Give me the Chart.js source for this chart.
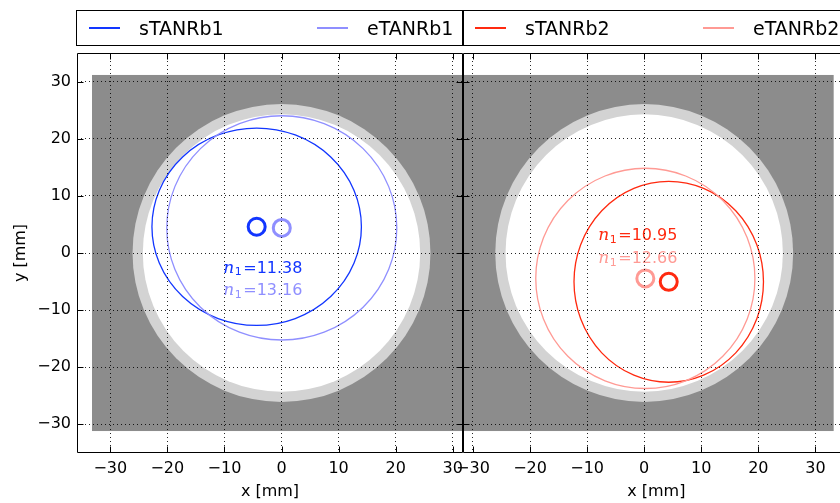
<!DOCTYPE html>
<html>
<head>
<meta charset="utf-8">
<script src="https://cdn.jsdelivr.net/npm/chart.js@4/dist/chart.umd.min.js"></script>
<style>
  html, body { margin: 0; padding: 0; background: #fff; }
  body { width: 840px; height: 503px; overflow: hidden; position: relative; font-family: "DejaVu Sans", sans-serif; }
  canvas { position: absolute; top: 0; }
  #c1 { left: 0px; }
  #c2 { left: 440px; }
  .legend { position: absolute; top: 10px; height: 34px; width: 386px; border: 1px solid #000; box-sizing: content-box; }
  .item { position: absolute; top: 0; height: 34px; line-height: 34px; font-size: 19px; color: #000; white-space: nowrap; }
  .swatch { position: absolute; top: 16px; width: 31px; height: 2px; }
</style>
</head>
<body>
<canvas id="c1" width="500" height="503" style="width:500px;height:503px"></canvas>
<canvas id="c2" width="440" height="503" style="width:440px;height:503px"></canvas>
<div class="legend" id="leg1" style="left:76px"></div>
<div class="legend" id="leg2" style="left:462px"></div>
<script>
// ---------------- data ----------------
const xTicks = [-30, -20, -10, 0, 10, 20, 30];
const yTicks = [-30, -20, -10, 0, 10, 20, 30];

// beam 1 (left panel)
const b1Labels = ['sTANRb1', 'eTANRb1'];
const b1CenterX = [-4.35, 0.05];
const b1CenterY = [4.6, 4.4];
const b1HalfWidth = [18.35, 20.15];
const b1HalfHeight = [17.3, 19.65];
const b1N1 = ['11.38', '13.16'];
const b1TextX = [-10.2, -10.2];
const b1TextY = [-2.72, -6.67];

// beam 2 (right panel)
const b2Labels = ['sTANRb2', 'eTANRb2'];
const b2CenterX = [4.3, 0.2];
const b2CenterY = [-5.05, -4.45];
const b2HalfWidth = [16.6, 19.2];
const b2HalfHeight = [17.6, 19.3];
const b2N1 = ['10.95', '12.66'];
const b2TextX = [-8.04, -8.04];
const b2TextY = [2.98, -1.0];

// aperture
const apertureRect = [33.2, 31.2];   // half width, half height
const apertureRing = [24.3, 26.1];   // inner, outer radius

// axis ranges
const b1XRange = [-35.83, 31.8];
const b2XRange = [-31.75, 36.0];
const yRange = [-35.05, 35.05];

const b1Colors = ['#1236ff', '#8f8fff'];
const b2Colors = ['#ff2a10', '#ff9a94'];

// ---------------- legend (HTML) ----------------
function buildLegend(id, labels, colors) {
  const el = document.getElementById(id);
  const offs = [[12, 62], [240, 290]];
  labels.forEach((lab, i) => {
    const sw = document.createElement('div');
    sw.className = 'swatch';
    sw.style.left = offs[i][0] + 'px';
    sw.style.background = colors[i];
    el.appendChild(sw);
    const t = document.createElement('div');
    t.className = 'item';
    t.style.left = offs[i][1] + 'px';
    t.textContent = lab;
    el.appendChild(t);
  });
}
buildLegend('leg1', b1Labels, b1Colors);
buildLegend('leg2', b2Labels, b2Colors);

// ---------------- plugin ----------------
const fmt = v => (v < 0 ? '\u2212' + Math.abs(v) : String(v));

const panelPlugin = {
  id: 'panel',
  beforeDatasetsDraw(chart, args, o) {
    const { ctx, chartArea: a, scales: { x, y } } = chart;
    ctx.save();
    ctx.beginPath();
    ctx.rect(a.left, a.top, a.right - a.left, a.bottom - a.top);
    ctx.clip();
    // gray rectangle
    const rx0 = x.getPixelForValue(-apertureRect[0]);
    const rx1 = x.getPixelForValue(apertureRect[0]);
    const ry0 = y.getPixelForValue(apertureRect[1]);
    const ry1 = y.getPixelForValue(-apertureRect[1]);
    ctx.fillStyle = '#8c8c8c';
    ctx.fillRect(rx0, ry0, rx1 - rx0, ry1 - ry0);
    // ring
    const cx = x.getPixelForValue(0), cy = y.getPixelForValue(0);
    const rOut = x.getPixelForValue(apertureRing[1]) - cx;
    const rIn = x.getPixelForValue(apertureRing[0]) - cx;
    ctx.fillStyle = '#d3d3d3';
    ctx.beginPath(); ctx.arc(cx, cy, rOut, 0, Math.PI * 2); ctx.fill();
    ctx.fillStyle = '#ffffff';
    ctx.beginPath(); ctx.arc(cx, cy, rIn, 0, Math.PI * 2); ctx.fill();
    // beam envelopes
    for (let i = 0; i < o.cx.length; i++) {
      const px = x.getPixelForValue(o.cx[i]);
      const py = y.getPixelForValue(o.cy[i]);
      const ex = Math.abs(x.getPixelForValue(o.cx[i] + o.hw[i]) - px);
      const ey = Math.abs(y.getPixelForValue(o.cy[i] + o.hh[i]) - py);
      ctx.strokeStyle = o.colors[i];
      ctx.lineWidth = 1.3;
      ctx.beginPath(); ctx.ellipse(px, py, ex, ey, 0, 0, Math.PI * 2); ctx.stroke();
    }
    // n1 labels
    ctx.textBaseline = 'middle';
    ctx.textAlign = 'left';
    for (let i = 0; i < o.n1.length; i++) {
      let tx = x.getPixelForValue(o.tx[i]);
      const ty = y.getPixelForValue(o.ty[i]);
      ctx.fillStyle = o.colors[i];
      ctx.font = 'italic 17px "DejaVu Serif"';
      ctx.fillText('n', tx, ty);
      tx += ctx.measureText('n').width + 0.5;
      ctx.font = '11px "DejaVu Sans"';
      ctx.fillText('1', tx, ty + 4);
      tx += ctx.measureText('1').width + 1.5;
      ctx.font = '16px "DejaVu Sans"';
      ctx.fillText('=' + o.n1[i], tx, ty);
    }
    ctx.restore();
  },
  afterDraw(chart) {
    const { ctx, chartArea: a, scales: { x, y } } = chart;
    ctx.save();
    ctx.strokeStyle = '#000';
    ctx.lineWidth = 1;
    const L = Math.round(a.left) + 0.5, R = Math.round(a.right) - 0.5;
    const T = Math.round(a.top) + 0.5, B = Math.round(a.bottom) - 0.5;
    ctx.beginPath();
    ctx.moveTo(L, T); ctx.lineTo(R, T); ctx.lineTo(R, B); ctx.lineTo(L, B); ctx.closePath();
    ctx.stroke();
    // inward tick marks
    const tl = 6;
    ctx.beginPath();
    xTicks.forEach(v => {
      const p = Math.round(x.getPixelForValue(v)) + 0.5;
      ctx.moveTo(p, B); ctx.lineTo(p, B - tl);
      ctx.moveTo(p, T); ctx.lineTo(p, T + tl);
    });
    yTicks.forEach(v => {
      const p = Math.round(y.getPixelForValue(v)) + 0.5;
      ctx.moveTo(L, p); ctx.lineTo(L + tl, p);
      ctx.moveTo(R, p); ctx.lineTo(R - tl, p);
    });
    ctx.stroke();
    ctx.restore();
  }
};

function makeChart(canvasId, labels, colors, cxs, cys, hws, hhs, n1, tx, ty, xRange, isLeft) {
  const datasets = labels.map((lab, i) => ({
    label: lab,
    data: [{ x: cxs[i], y: cys[i] }],
    pointRadius: 8.5,
    pointHoverRadius: 8.5,
    pointBorderWidth: 3,
    borderColor: colors[i],
    pointBorderColor: colors[i],
    backgroundColor: 'rgba(0,0,0,0)',
    pointBackgroundColor: 'rgba(0,0,0,0)'
  }));
  const gridOpts = { display: true, color: 'rgba(0,0,0,0.85)', lineWidth: 1, drawTicks: false, z: 1 };
  const borderOpts = { display: false, dash: [1, 3] };
  return new Chart(document.getElementById(canvasId), {
    type: 'scatter',
    data: { datasets },
    options: {
      responsive: false,
      animation: false,
      devicePixelRatio: 1,
      events: [],
      layout: { padding: isLeft ? { left: 0, right: 37, top: 53, bottom: 0 } : { left: 23, right: 30.35, top: 53, bottom: 0 } },
      plugins: {
        legend: { display: false },
        tooltip: { enabled: false },
        panel: { cx: cxs, cy: cys, hw: hws, hh: hhs, n1: n1, tx: tx, ty: ty, colors: colors }
      },
      scales: {
        x: {
          type: 'linear',
          min: xRange[0], max: xRange[1],
          afterBuildTicks: s => { s.ticks = xTicks.map(v => ({ value: v })); },
          afterFit: s => { s.height = 50; },
          grid: gridOpts,
          border: borderOpts,
          ticks: { color: '#000', font: { family: 'DejaVu Sans', size: 16 }, padding: 6, maxRotation: 0, autoSkip: false, callback: v => fmt(v) },
          title: { display: true, text: 'x [mm]', color: '#000', font: { family: 'DejaVu Sans', size: 16, lineHeight: 1.2 }, padding: { top: 0, bottom: 2 } }
        },
        y: {
          type: 'linear',
          min: yRange[0], max: yRange[1],
          afterBuildTicks: s => { s.ticks = yTicks.map(v => ({ value: v })); },
          afterFit: s => { s.width = isLeft ? 77 : 0; },
          grid: gridOpts,
          border: borderOpts,
          ticks: { display: isLeft, color: '#000', font: { family: 'DejaVu Sans', size: 16 }, padding: 6, autoSkip: false, callback: v => fmt(v) },
          title: { display: isLeft, text: 'y [mm]', color: '#000', font: { family: 'DejaVu Sans', size: 16, lineHeight: 1.2 }, padding: { top: 11, bottom: 0 } }
        }
      }
    },
    plugins: [panelPlugin]
  });
}

makeChart('c1', b1Labels, b1Colors, b1CenterX, b1CenterY, b1HalfWidth, b1HalfHeight, b1N1, b1TextX, b1TextY, b1XRange, true);
makeChart('c2', b2Labels, b2Colors, b2CenterX, b2CenterY, b2HalfWidth, b2HalfHeight, b2N1, b2TextX, b2TextY, b2XRange, false);
</script>
</body>
</html>
